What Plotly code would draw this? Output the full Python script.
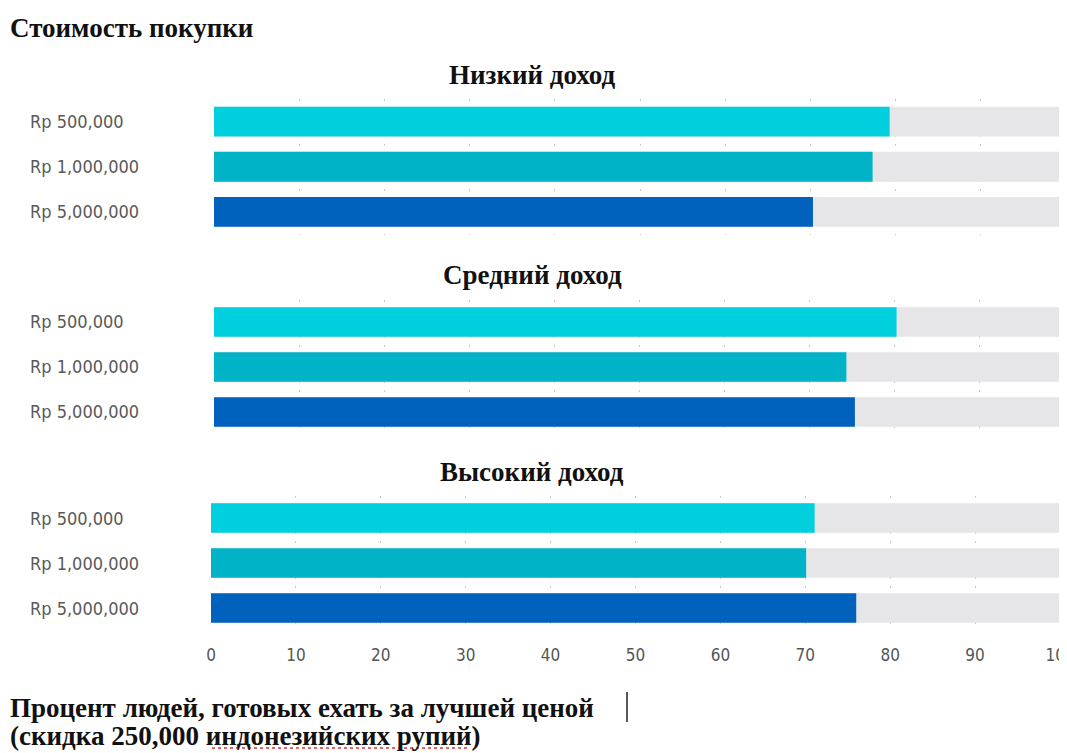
import plotly.graph_objects as go

# page body has an 8px margin on the top-left, so the figure is shifted
PAGE_W, PAGE_H = 1067, 753
OFF = 8
W, H = PAGE_W - OFF, PAGE_H - OFF

categories = ["Rp 500,000", "Rp 1,000,000", "Rp 5,000,000"]
panel_titles = ["Низкий доход", "Средний доход", "Высокий доход"]
low_income = [79.3, 77.3, 70.3]
mid_income = [80.3, 74.4, 75.4]
high_income = [71.1, 70.1, 76.0]
series = [low_income, mid_income, high_income]
full_scale = [100, 100, 100]
x_ticks = [0, 10, 20, 30, 40, 50, 60, 70, 80, 90, 100]
bar_colors = ["#00cfdd", "#00b3c6", "#0062bd"]
track_color = "#e6e6e8"

main_title = "Стоимость покупки"
footer_1 = "Процент людей, готовых ехать за лучшей ценой"
footer_2 = "(скидка 250,000 индонезийских рупий)"


def px_x(p):
    return (p - OFF) / W


def px_y(p):
    return 1 - (p - OFF) / H


# pixel layout of each panel: (y_top, y_bottom, x_left, x_right, title_y)
panels = [
    (99, 234.5, 214, 1066, 75),
    (299.5, 434.5, 214, 1064, 275),
    (495.5, 630.5, 211, 1060, 472),
]

fig = go.Figure()
serif = "Liberation Serif, Times New Roman, serif"
cond = "DejaVu Sans Condensed, Liberation Sans Narrow, sans-serif"
TSIZE = 27

annotations = []
for i, (vals, (yt, yb, xl, xr, ty)) in enumerate(zip(series, panels)):
    n = "" if i == 0 else str(i + 1)
    xa, ya = "x" + n, "y" + n
    fig.add_trace(go.Bar(
        y=categories, x=full_scale, orientation="h",
        marker=dict(color=track_color, line=dict(width=0)),
        width=0.66, xaxis=xa, yaxis=ya, hoverinfo="skip", showlegend=False,
    ))
    fig.add_trace(go.Bar(
        y=categories, x=vals, orientation="h",
        marker=dict(color=bar_colors, line=dict(width=0)),
        width=0.66, xaxis=xa, yaxis=ya, showlegend=False,
    ))
    fig.layout["xaxis" + n] = dict(
        domain=[px_x(xl), min(1.0, px_x(xr))], range=[0, 100], anchor=ya,
        tickvals=x_ticks, ticktext=[str(t) for t in x_ticks],
        showticklabels=(i == 2), ticks="", ticklabeloverflow="allow",
        tickfont=dict(family=cond, size=17, color="#555555"),
        showgrid=True, gridcolor="#c9c9c9", gridwidth=1, griddash="2px,7px",
        zeroline=False, showline=False, automargin=False, ticklabelstandoff=12,
    )
    fig.layout["yaxis" + n] = dict(
        domain=[px_y(yb), px_y(yt)], anchor=xa, type="category",
        categoryorder="array", categoryarray=categories,
        range=[2.5, -0.5], showticklabels=False, showgrid=False,
        zeroline=False, showline=False, automargin=False,
    )
    for c in categories:
        annotations.append(dict(
            xref="paper", yref=ya, x=px_x(28), y=c, text=c, showarrow=False,
            xanchor="left", yanchor="middle",
            font=dict(family=cond, size=18, color="#595959"),
        ))
    annotations.append(dict(
        xref="paper", yref="paper", x=px_x(532), y=px_y(ty),
        text="<b>" + panel_titles[i] + "</b>", showarrow=False,
        xanchor="center", yanchor="middle",
        font=dict(family=serif, size=TSIZE, color="#111111"),
    ))

annotations += [
    dict(xref="paper", yref="paper", x=px_x(8), y=px_y(28),
         text="<b>" + main_title + "</b>", showarrow=False,
         xanchor="left", yanchor="middle",
         font=dict(family=serif, size=TSIZE, color="#111111")),
    dict(xref="paper", yref="paper", x=px_x(8), y=px_y(708),
         text="<b>" + footer_1 + "</b>", showarrow=False,
         xanchor="left", yanchor="middle",
         font=dict(family=serif, size=TSIZE, color="#111111")),
    dict(xref="paper", yref="paper", x=px_x(8), y=px_y(736),
         text="<b>" + footer_2 + "</b>", showarrow=False,
         xanchor="left", yanchor="middle",
         font=dict(family=serif, size=TSIZE, color="#111111")),
]

shapes = [
    # text cursor
    dict(type="line", xref="paper", yref="paper",
         x0=px_x(627), x1=px_x(627), y0=px_y(692), y1=px_y(722),
         line=dict(color="#222222", width=1.5)),
    # spell-check underline
    dict(type="line", xref="paper", yref="paper",
         x0=px_x(212), x1=px_x(468), y0=px_y(748), y1=px_y(748),
         line=dict(color="#e03030", width=1.5, dash="dot")),
]

fig.update_layout(
    width=W, height=H, margin=dict(l=0, r=0, t=0, b=0),
    paper_bgcolor="white", plot_bgcolor="white",
    barmode="overlay", bargap=0.3,
    annotations=annotations, shapes=shapes,
)

fig.write_html("out.html")
